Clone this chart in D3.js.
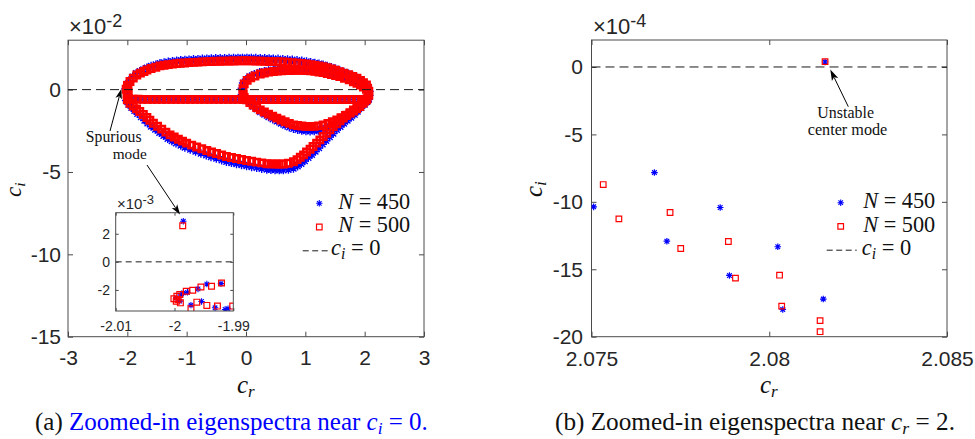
<!DOCTYPE html>
<html><head><meta charset="utf-8">
<script src="https://cdn.jsdelivr.net/npm/d3@7"></script>
<style>html,body{margin:0;padding:0;background:#fff;} svg{display:block;}</style>
</head><body><svg id="c" width="975" height="439"></svg>
<script>
// ---------- DATA (panel a: c_r, c_i in units of 1e-2) ----------
const mainXTicks = [-3, -2, -1, 0, 1, 2, 3];
const mainYTicks = [-15, -10, -5, 0];
const insetXTicks = [-2.01, -2, -1.99];
const insetYTicks = [-2, 0, 2];
const rightXTicks = [2.075, 2.08, 2.085];
const rightYTicks = [-20, -15, -10, -5, 0];
const seriesNames = ["N = 450", "N = 500"];

// N = 500 (red squares), flat [x, y, x, y ...]
const redTop = [-2.02,0.02,-1.99,0.27,-1.955,0.49,-1.90,0.70,-1.84,0.89,-1.78,1.00,-1.72,1.10,-1.67,1.19,-1.60,1.28,-1.52,1.36,-1.45,1.44,-1.38,1.48,-1.31,1.52,-1.24,1.55,-1.17,1.58,-1.11,1.60,-1.035,1.62,-0.96,1.64,-0.885,1.655,-0.81,1.67,-0.735,1.685,-0.66,1.70,-0.585,1.71,-0.51,1.72,-0.435,1.725,-0.36,1.73,-0.285,1.735,-0.21,1.74,-0.135,1.745,-0.06,1.75,0.015,1.75,0.09,1.745,0.165,1.74,0.24,1.73,0.315,1.72,0.39,1.71,0.46,1.70,0.54,1.69,0.62,1.68,0.70,1.66,0.78,1.64,0.86,1.62,0.94,1.59,1.02,1.56,1.09,1.52,1.16,1.48,1.23,1.44,1.30,1.39,1.37,1.33,1.44,1.26,1.51,1.18,1.58,1.09,1.65,1.00,1.73,0.90,1.80,0.80,1.87,0.69,1.93,0.56,1.98,0.42,2.03,0.28,2.05,0.09,2.07,-0.10];
const redInnerTop = [-0.05,-0.30,-0.05,0.05,-0.03,0.35,0.02,0.56,0.08,0.71,0.15,0.83,0.24,0.95,0.31,1.01,0.38,1.06,0.46,1.10,0.53,1.12,0.60,1.14,0.67,1.15,0.74,1.16,0.81,1.17,0.88,1.17,0.95,1.17,1.02,1.16,1.09,1.14,1.16,1.11,1.23,1.07,1.30,1.03,1.37,0.98,1.44,0.92,1.51,0.86,1.58,0.79,1.66,0.69,1.74,0.59,1.81,0.48,1.87,0.38,1.93,0.27,1.98,0.16,2.03,0.02,2.06,-0.15,2.07,-0.35];
const redInnerBottom = [-0.03,-0.48,0.01,-0.62,0.065,-0.78,0.12,-0.94,0.18,-1.09,0.24,-1.23,0.31,-1.36,0.38,-1.49,0.45,-1.61,0.52,-1.73,0.59,-1.84,0.66,-1.95,0.73,-2.05,0.80,-2.14,0.87,-2.18,0.94,-2.21,1.01,-2.23,1.08,-2.24,1.15,-2.23,1.22,-2.20,1.30,-2.14,1.38,-2.05,1.455,-1.95,1.53,-1.84,1.60,-1.71,1.675,-1.57,1.75,-1.43,1.81,-1.30,1.865,-1.16,1.92,-1.03,1.975,-0.82,2.03,-0.62];
const redMid = [-1.98,-0.57,-1.90,-0.58,-1.82,-0.58,-1.74,-0.59,-1.66,-0.59,-1.58,-0.59,-1.50,-0.59,-1.42,-0.59,-1.34,-0.59,-1.26,-0.59,-1.18,-0.59,-1.10,-0.59,-1.02,-0.59,-0.94,-0.59,-0.86,-0.59,-0.78,-0.59,-0.70,-0.59,-0.62,-0.59,-0.54,-0.59,-0.46,-0.59,-0.38,-0.59,-0.30,-0.59,-0.22,-0.59,-0.14,-0.59,-0.06,-0.59,0.02,-0.59,0.10,-0.60,0.18,-0.60,0.26,-0.60,0.34,-0.60,0.42,-0.60,0.50,-0.60,0.58,-0.60,0.66,-0.60,0.74,-0.60,0.82,-0.60,0.90,-0.60,0.98,-0.60,1.06,-0.60,1.14,-0.60,1.22,-0.60,1.30,-0.60,1.38,-0.60,1.46,-0.60,1.54,-0.60,1.62,-0.60,1.70,-0.60,1.78,-0.60,1.86,-0.60,1.94,-0.60,2.02,-0.60];
const redLower = [-2.00,-0.62,-1.955,-0.83,-1.90,-1.00,-1.845,-1.17,-1.79,-1.33,-1.73,-1.51,-1.67,-1.69,-1.62,-1.86,-1.56,-2.04,-1.49,-2.22,-1.42,-2.40,-1.35,-2.58,-1.28,-2.75,-1.21,-2.88,-1.14,-3.01,-1.07,-3.13,-1.00,-3.25,-0.915,-3.37,-0.83,-3.48,-0.745,-3.59,-0.66,-3.70,-0.58,-3.79,-0.495,-3.88,-0.41,-3.97,-0.33,-4.06,-0.245,-4.12,-0.16,-4.18,-0.075,-4.24,0.01,-4.30,0.095,-4.35,0.18,-4.40,0.265,-4.45,0.35,-4.50,0.42,-4.51,0.49,-4.52,0.56,-4.52,0.63,-4.52,0.715,-4.47,0.80,-4.38,0.86,-4.25,0.915,-4.11,0.97,-3.96,1.02,-3.79,1.08,-3.62,1.13,-3.45,1.19,-3.25,1.245,-3.05,1.30,-2.85,1.36,-2.65,1.415,-2.44,1.47,-2.24,1.53,-2.07,1.585,-1.90,1.64,-1.73,1.70,-1.56,1.755,-1.40,1.81,-1.23,1.88,-1.03,1.95,-0.83,2.00,-0.69,2.04,-0.55];

// N = 450 (blue asterisks)
const blueTop = [-2.03,0.05,-2.00,0.32,-1.965,0.56,-1.91,0.79,-1.85,0.99,-1.79,1.12,-1.73,1.23,-1.67,1.33,-1.60,1.43,-1.52,1.52,-1.45,1.60,-1.38,1.65,-1.31,1.69,-1.24,1.72,-1.17,1.75,-1.10,1.78,-1.03,1.80,-0.96,1.82,-0.885,1.84,-0.81,1.85,-0.735,1.87,-0.66,1.88,-0.585,1.89,-0.51,1.90,-0.435,1.91,-0.36,1.91,-0.285,1.92,-0.21,1.92,-0.135,1.93,-0.06,1.93,0.015,1.93,0.09,1.93,0.165,1.92,0.24,1.91,0.315,1.90,0.39,1.89,0.46,1.88,0.54,1.87,0.62,1.85,0.70,1.83,0.78,1.81,0.86,1.78,0.94,1.75,1.02,1.71,1.09,1.67,1.16,1.62,1.23,1.57,1.30,1.51,1.37,1.44,1.44,1.36,1.51,1.27,1.58,1.17,1.65,1.07,1.73,0.96,1.80,0.85,1.87,0.73,1.93,0.59,1.98,0.44,2.03,0.29,2.06,0.10,2.08,-0.10];
const blueInnerTop = [-0.07,-0.30,-0.07,0.08,-0.05,0.40,0.00,0.63,0.06,0.80,0.14,0.93,0.23,1.05,0.31,1.12,0.38,1.17,0.46,1.21,0.53,1.24,0.60,1.26,0.67,1.27,0.74,1.28,0.81,1.29,0.88,1.29,0.95,1.28,1.02,1.27,1.09,1.25,1.16,1.22,1.23,1.18,1.30,1.13,1.37,1.08,1.44,1.01,1.51,0.94,1.58,0.86,1.66,0.76,1.74,0.65,1.81,0.53,1.87,0.42,1.93,0.30,1.98,0.18,2.03,0.03,2.06,-0.15,2.08,-0.35];
const blueInnerBottom = [0.00,-0.64,0.06,-0.85,0.12,-1.03,0.18,-1.20,0.24,-1.36,0.31,-1.51,0.38,-1.66,0.45,-1.80,0.52,-1.93,0.59,-2.06,0.66,-2.18,0.73,-2.29,0.80,-2.38,0.87,-2.44,0.94,-2.49,1.01,-2.52,1.08,-2.53,1.15,-2.52,1.22,-2.48,1.30,-2.41,1.38,-2.30,1.455,-2.18,1.53,-2.04,1.60,-1.89,1.675,-1.73,1.75,-1.57,1.81,-1.42,1.865,-1.26,1.92,-1.10,1.975,-0.88,2.04,-0.65];
const blueMid = [-1.94,-0.60,-1.86,-0.60,-1.78,-0.60,-1.70,-0.60,-1.62,-0.60,-1.54,-0.60,-1.46,-0.60,-1.38,-0.60,-1.30,-0.60,-1.22,-0.60,-1.14,-0.60,-1.06,-0.60,-0.98,-0.60,-0.90,-0.60,-0.82,-0.60,-0.74,-0.60,-0.66,-0.60,-0.58,-0.60,-0.50,-0.60,-0.42,-0.60,-0.34,-0.60,-0.26,-0.60,-0.18,-0.60,-0.10,-0.60,-0.02,-0.60,0.06,-0.61,0.14,-0.61,0.22,-0.61,0.30,-0.61,0.38,-0.61,0.46,-0.61,0.54,-0.61,0.62,-0.61,0.70,-0.61,0.78,-0.61,0.86,-0.61,0.94,-0.61,1.02,-0.61,1.10,-0.61,1.18,-0.61,1.26,-0.61,1.34,-0.61,1.42,-0.61,1.50,-0.61,1.58,-0.61,1.66,-0.61,1.74,-0.61,1.82,-0.61,1.90,-0.61,1.98,-0.61,2.06,-0.61];
const blueLower = [-2.02,-0.66,-1.98,-0.90,-1.93,-1.10,-1.88,-1.29,-1.83,-1.47,-1.77,-1.67,-1.71,-1.87,-1.66,-2.05,-1.60,-2.24,-1.53,-2.43,-1.46,-2.62,-1.39,-2.80,-1.32,-2.98,-1.25,-3.12,-1.18,-3.26,-1.10,-3.39,-1.03,-3.51,-0.94,-3.64,-0.85,-3.76,-0.76,-3.88,-0.67,-3.99,-0.59,-4.09,-0.50,-4.19,-0.41,-4.29,-0.33,-4.38,-0.245,-4.45,-0.16,-4.52,-0.075,-4.58,0.01,-4.64,0.095,-4.70,0.18,-4.75,0.265,-4.80,0.35,-4.85,0.42,-4.87,0.49,-4.88,0.56,-4.89,0.63,-4.89,0.715,-4.86,0.80,-4.79,0.87,-4.66,0.93,-4.50,0.99,-4.33,1.05,-4.14,1.11,-3.95,1.17,-3.76,1.23,-3.54,1.29,-3.32,1.35,-3.10,1.41,-2.88,1.47,-2.66,1.53,-2.44,1.59,-2.25,1.65,-2.06,1.71,-1.88,1.77,-1.70,1.83,-1.52,1.88,-1.33,1.94,-1.11,2.00,-0.90,2.04,-0.74,2.07,-0.58];

// Inset (c_i in units of 1e-3)
const insetBlue = [-1.9985,2.89,-1.9997,-2.56,-1.9991,-2.80,-1.9989,-2.35,-1.9985,-2.21,-1.9978,-2.17,-1.9972,-3.08,-1.9960,-1.93,-1.9954,-2.82,-1.9945,-1.58,-1.9931,-3.27,-1.9921,-1.55,-1.9914,-3.39,-1.9909,-3.34];
const insetRed = [-1.9986,2.57,-2.0001,-2.63,-1.9997,-2.80,-1.9994,-2.68,-1.9996,-2.45,-1.9991,-2.33,-1.9990,-2.92,-1.9980,-2.09,-1.9972,-3.34,-1.9969,-2.02,-1.9962,-2.87,-1.9955,-1.79,-1.9945,-3.10,-1.9937,-1.74,-1.9927,-3.15,-1.9920,-1.51,-1.9901,-3.15];

// Panel b (c_i in units of 1e-4)
const rightBlue = [2.08157,0.37,2.07677,-7.83,2.07506,-10.37,2.07712,-12.92,2.07862,-10.42,2.07888,-15.46,2.08024,-13.33,2.08038,-17.98,2.08152,-17.21];
const rightRed = [2.08157,0.40,2.07533,-8.72,2.07577,-11.26,2.07721,-10.79,2.07751,-13.46,2.07885,-12.94,2.07905,-15.66,2.08029,-15.44,2.08035,-17.73,2.08143,-18.81,2.08143,-19.63];

// ---------- DRAWING ----------
const pairs = a => d3.range(0, a.length, 2).map(i => [a[i], a[i + 1]]);
const svg = d3.select('#c');
svg.append('rect').attr('width', 975).attr('height', 439).attr('fill', '#fff');
const TXT = '#262626', FRAME = '#4a4a4a', BLUE = '#0000ff', RED = '#ff0000';
const SANS = '"Liberation Sans", Arial, Helvetica, sans-serif';
const SERIF = '"Liberation Serif", "Times New Roman", serif';

function starPath(r) { const d = r * 0.7071; return `M0,${-r}L0,${r}M${-r},0L${r},0M${-d},${-d}L${d},${d}M${-d},${d}L${d},${-d}`; }
function sqPath(s) { const h = s / 2; return `M${-h},${-h}H${h}V${h}H${-h}Z`; }

function drawAxes(g, x, y, o) {
  const [x0, x1] = x.range(), [y0, y1] = y.range();
  const gb = g.append('g').attr('transform', `translate(0,${y0})`).call(d3.axisBottom(x).tickValues(o.xt).tickFormat(o.xf).tickSizeInner(-o.ts).tickSizeOuter(0).tickPadding(o.xpad));
  const gt = g.append('g').attr('transform', `translate(0,${y1})`).call(d3.axisTop(x).tickValues(o.xt).tickFormat(() => '').tickSizeInner(-o.ts).tickSizeOuter(0));
  const gl = g.append('g').attr('transform', `translate(${x0},0)`).call(d3.axisLeft(y).tickValues(o.yt).tickFormat(o.yf).tickSizeInner(-o.ts).tickSizeOuter(0).tickPadding(o.ypad));
  const gr = g.append('g').attr('transform', `translate(${x1},0)`).call(d3.axisRight(y).tickValues(o.yt).tickFormat(() => '').tickSizeInner(-o.ts).tickSizeOuter(0));
  [gb, gt, gl, gr].forEach(a => {
    a.select('.domain').remove();
    a.selectAll('line').attr('stroke', FRAME).attr('stroke-width', 1);
    a.selectAll('text').attr('fill', TXT).attr('font-family', SANS).attr('font-size', o.fs);
  });
  g.append('rect').attr('x', x0).attr('y', y1).attr('width', x1 - x0).attr('height', y0 - y1)
    .attr('fill', 'none').attr('stroke', FRAME).attr('stroke-width', 1);
}

function plotPoints(g, x, y, data, kind, size, sw) {
  g.selectAll(null).data(data).enter().append('path')
    .attr('transform', d => `translate(${x(d[0])},${y(d[1])})`)
    .attr('d', kind === 'star' ? starPath(size) : sqPath(size))
    .attr('fill', 'none').attr('stroke', kind === 'star' ? BLUE : RED).attr('stroke-width', sw);
}

function zeroLine(g, x, y, dash) {
  g.append('line').attr('x1', x.range()[0]).attr('x2', x.range()[1]).attr('y1', y(0)).attr('y2', y(0))
    .attr('stroke', '#1a1a1a').attr('stroke-width', 1).attr('stroke-dasharray', dash);
}

function fitText(sel, width) {
  const w = sel.node().getComputedTextLength();
  const fs = parseFloat(sel.attr('font-size'));
  sel.attr('font-size', fs * width / w);
  return sel;
}

function mathLabel(g, x, y, base, sub, rest, width, anchor, fill) {
  const t = g.append('text').attr('x', x).attr('y', y).attr('font-family', SERIF).attr('font-size', 20)
    .attr('fill', fill || '#111').attr('text-anchor', anchor || 'start');
  t.append('tspan').attr('font-style', 'italic').text(base);
  if (sub) {
    t.append('tspan').attr('font-style', 'italic').attr('font-size', '70%').attr('dy', '0.25em').text(sub);
    t.append('tspan').attr('dy', '-0.175em').text(rest);
  } else t.append('tspan').text(rest);
  if (width) fitText(t, width);
  return t;
}

function arrow(g, x1, y1, x2, y2, hl, hw) {
  const dx = x2 - x1, dy = y2 - y1, L = Math.hypot(dx, dy), ux = dx / L, uy = dy / L;
  const bx = x2 - ux * hl, by = y2 - uy * hl;
  g.append('line').attr('x1', x1).attr('y1', y1).attr('x2', bx + ux * 2).attr('y2', by + uy * 2)
    .attr('stroke', '#000').attr('stroke-width', 1);
  g.append('path').attr('d', `M${x2},${y2}L${bx - uy * hw},${by + ux * hw}L${bx + ux * 2.5},${by + uy * 2.5}L${bx + uy * hw},${by - ux * hw}Z`)
    .attr('fill', '#000');
}

function expLabel(g, x, y, fs, sup, supfs, dy) {
  const t = g.append('text').attr('x', x).attr('y', y).attr('font-family', SANS).attr('font-size', fs).attr('fill', TXT);
  t.append('tspan').text('\u00d710');
  t.append('tspan').attr('font-size', supfs).attr('dy', dy).text(sup);
}

function axisTitle(g, x, y, sub, rotate, fs) {
  const t = g.append('text').attr('font-family', SERIF).attr('font-size', fs).attr('fill', '#111')
    .attr('transform', rotate ? `translate(${x},${y}) rotate(-90)` : `translate(${x},${y})`);
  t.append('tspan').attr('font-style', 'italic').text('c');
  t.append('tspan').attr('font-style', 'italic').attr('font-size', fs * 0.68).attr('dy', 4).text(sub);
}

function legend(g, mx, sy, nx, cx, dashX0, dashX1) {
  g.append('path').attr('transform', `translate(${mx},${sy})`).attr('d', starPath(3.2)).attr('fill', 'none').attr('stroke', BLUE).attr('stroke-width', 1.1);
  g.append('path').attr('transform', `translate(${mx},${sy + 23.7})`).attr('d', sqPath(5.6)).attr('fill', 'none').attr('stroke', RED).attr('stroke-width', 1.2);
  g.append('line').attr('x1', dashX0).attr('x2', dashX1).attr('y1', sy + 47.5).attr('y2', sy + 47.5)
    .attr('stroke', '#1a1a1a').attr('stroke-width', 1).attr('stroke-dasharray', '6,3.5');
  mathLabel(g, nx, sy + 5.5, 'N', null, ' = ' + seriesNames[0].split('= ')[1], 72);
  mathLabel(g, nx, sy + 29, 'N', null, ' = ' + seriesNames[1].split('= ')[1], 72);
  mathLabel(g, cx, sy + 52, 'c', 'i', ' = 0', 49.5);
}

// ===== Panel (a) =====
const gA = svg.append('g');
const xL = d3.scaleLinear([-3, 3], [68, 424]);
const yL = d3.scaleLinear([-15, 3], [336.7, 40.2]);
svg.append('clipPath').attr('id', 'clipA').append('rect').attr('x', 68).attr('y', 40.2).attr('width', 356).attr('height', 296.5);
drawAxes(gA, xL, yL, { xt: mainXTicks, yt: mainYTicks, xf: d => String(d), yf: d => String(d), ts: 5, fs: 21, xpad: 13.4, ypad: 7 });
const dA = gA.append('g').attr('clip-path', 'url(#clipA)');
const blueMain = [].concat(pairs(blueTop), pairs(blueInnerTop), pairs(blueInnerBottom), pairs(blueMid), pairs(blueLower), pairs(insetBlue).map(d => [d[0], d[1] / 10]));
const redMain = [].concat(pairs(redTop), pairs(redInnerTop), pairs(redInnerBottom), pairs(redMid), pairs(redLower), pairs(insetRed).map(d => [d[0], d[1] / 10]));
plotPoints(dA, xL, yL, blueMain, 'star', 4.2, 1.4);
plotPoints(dA, xL, yL, redMain, 'square', 6.4, 2.5);
zeroLine(dA, xL, yL, '9,5');
expLabel(gA, 69, 34, 22, '-2', 18, -7);
axisTitle(gA, 237, 392.5, 'r', false, 25);
axisTitle(gA, 20.5, 197, 'i', true, 23);
legend(gA, 319.3, 203.3, 338.3, 331, 302.7, 330);

// inset
const xI = d3.scaleLinear([-2.01, -1.99], [115.7, 233.3]);
const yI = d3.scaleLinear([-3.5, 3.5], [311, 212.7]);
gA.append('rect').attr('x', 115.7).attr('y', 212.7).attr('width', 117.6).attr('height', 98.3).attr('fill', '#fff');
svg.append('clipPath').attr('id', 'clipI').append('rect').attr('x', 115.7).attr('y', 212.7).attr('width', 117.6).attr('height', 98.3);
const dI = gA.append('g').attr('clip-path', 'url(#clipI)');
plotPoints(dI, xI, yI, pairs(insetBlue), 'star', 3.2, 1.1);
plotPoints(dI, xI, yI, pairs(insetRed), 'square', 5.8, 1.2);
zeroLine(dI, xI, yI, '6,4');
drawAxes(gA, xI, yI, { xt: insetXTicks, yt: insetYTicks, xf: d => String(d), yf: d => String(d), ts: 3, fs: 14, xpad: 10, ypad: 5.7 });
expLabel(gA, 117, 208.5, 15, '-3', 13, -5);

// annotations (a)
const s1 = gA.append('text').attr('x', 113.7).attr('y', 141.5).attr('text-anchor', 'middle').attr('font-family', SERIF).attr('font-size', 15).attr('fill', '#111').text('Spurious');
fitText(s1, 55.7);
const s2 = gA.append('text').attr('x', 129.7).attr('y', 158.8).attr('text-anchor', 'middle').attr('font-family', SERIF).attr('font-size', 15).attr('fill', '#111').text('mode');
fitText(s2, 34);
arrow(gA, 110, 131, 121.3, 89, 10, 3.3);
arrow(gA, 147, 165, 180, 214.5, 10, 3.3);

// caption (a)
const capA = gA.append('text').attr('x', 35).attr('y', 430).attr('font-family', SERIF).attr('font-size', 20).attr('fill', '#111');
capA.append('tspan').text('(a) ');
capA.append('tspan').attr('fill', BLUE).text('Zoomed-in eigenspectra near ');
capA.append('tspan').attr('fill', BLUE).attr('font-style', 'italic').text('c');
capA.append('tspan').attr('fill', BLUE).attr('font-style', 'italic').attr('font-size', '70%').attr('dy', '0.25em').text('i');
capA.append('tspan').attr('fill', BLUE).attr('dy', '-0.175em').text(' = 0.');
fitText(capA, 393);

// ===== Panel (b) =====
const gB = svg.append('g');
const xR = d3.scaleLinear([2.075, 2.085], [591.5, 947]);
const yR = d3.scaleLinear([-20, 2], [336.7, 40]);
svg.append('clipPath').attr('id', 'clipB').append('rect').attr('x', 591.5).attr('y', 40).attr('width', 355.5).attr('height', 296.7);
drawAxes(gB, xR, yR, { xt: rightXTicks, yt: rightYTicks, xf: d => String(+d.toFixed(3)), yf: d => String(d), ts: 5, fs: 21, xpad: 14.1, ypad: 8.5 });
const dB = gB.append('g').attr('clip-path', 'url(#clipB)');
plotPoints(dB, xR, yR, pairs(rightBlue), 'star', 3.3, 1.2);
plotPoints(dB, xR, yR, pairs(rightRed), 'square', 5.6, 1.2);
zeroLine(dB, xR, yR, '9,5');
expLabel(gB, 593, 34, 22, '-4', 18, -7);
axisTitle(gB, 760, 393, 'r', false, 25);
axisTitle(gB, 542, 197, 'i', true, 25);
legend(gB, 840.7, 202.7, 863.3, 861.7, 826.7, 856.7);
const u1 = gB.append('text').attr('x', 845.7).attr('y', 117.7).attr('text-anchor', 'middle').attr('font-family', SERIF).attr('font-size', 15).attr('fill', '#111').text('Unstable');
fitText(u1, 56.7);
const u2 = gB.append('text').attr('x', 847.5).attr('y', 135).attr('text-anchor', 'middle').attr('font-family', SERIF).attr('font-size', 15).attr('fill', '#111').text('center mode');
fitText(u2, 79.7);
arrow(gB, 848.3, 106.7, 830.3, 69.5, 11, 3.5);

const capB = gB.append('text').attr('x', 555).attr('y', 430).attr('font-family', SERIF).attr('font-size', 20).attr('fill', '#111');
capB.append('tspan').text('(b) Zoomed-in eigenspectra near ');
capB.append('tspan').attr('font-style', 'italic').text('c');
capB.append('tspan').attr('font-style', 'italic').attr('font-size', '70%').attr('dy', '0.25em').text('r');
capB.append('tspan').attr('dy', '-0.175em').text(' = 2.');
fitText(capB, 400);
</script></body></html>
